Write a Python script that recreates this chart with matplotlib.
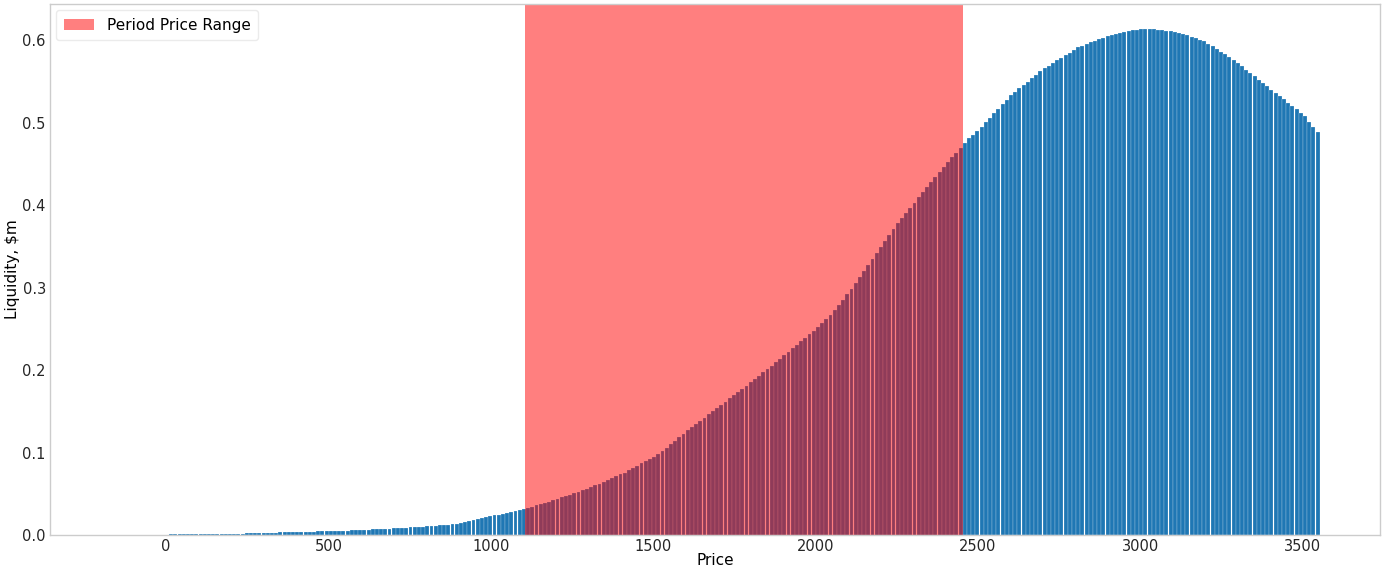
"""Liquidity by price with the period price range highlighted"""

import matplotlib
matplotlib.use("Agg")
import matplotlib.pyplot as plt
import numpy as np


# price buckets (first and last bar centre) and liquidity in $m
price_first = -165
price_last = 3546

liquidity = [
    .0003, .0003, .0004, .0004, .0004, .0005, .0005, .0006, .0006, .0007, .0007, .0008, .0008, .0009, .0010,
    .0010, .0011, .0012, .0012, .0013, .0014, .0014, .0015,
    .0016, .0016, .0017, .0017, .0018, .0019, .0019, .0020,
    .0021, .0023, .0024, .0026, .0027, .0028, .0030,
    .0031, .0032, .0034, .0035, .0036, .0037, .0039, .0040,
    .0041, .0043, .0044, .0046, .0047, .0048, .0050,
    .0051, .0053, .0055, .0057, .0059, .0061, .0063, .0065,
    .0067, .0070, .0072, .0075, .0077, .0080, .0082, .0085,
    .0088, .0091, .0094, .0097, .0100, .0103, .0107, .0110,
    .0115, .0120, .0125, .0130, .0135, .0140, .0145,
    .0156, .0168, .0180, .0192, .0204, .0216, .0228, .0240,
    .0251, .0262, .0274, .0285, .0296, .0307, .0319, .0330,
    .0345, .0361, .0377, .0392, .0408, .0424, .0440,
    .0458, .0475, .0493, .0510, .0528, .0545, .0563, .0580,
    .0603, .0625, .0648, .0670, .0693, .0715, .0738, .0760,
    .0788, .0815, .0843, .0870, .0898, .0925, .0953, .0980,
    .1021, .1063, .1104, .1146, .1187, .1229, .1270,
    .1309, .1348, .1386, .1425, .1464, .1503, .1541, .1580,
    .1619, .1658, .1697, .1736, .1775, .1814, .1853, .1892,
    .1933, .1974, .2015, .2056, .2097, .2138, .2179,
    .2222, .2264, .2307, .2349, .2392, .2435, .2477, .2520,
    .2568, .2619, .2673, .2730, .2790, .2853, .2919, .2987,
    .3057, .3129, .3202, .3276, .3350, .3424, .3497,
    .3569, .3640, .3710, .3778, .3844, .3908, .3970, .4030,
    .4092, .4154, .4215, .4276, .4337, .4397, .4457, .4517,
    .4577, .4637, .4696, .4755,
    .4808, .4855, .4903, .4950,
    .5004, .5059, .5113, .5167, .5221, .5276, .5330,
    .5371, .5413, .5454, .5495, .5536, .5578, .5619, .5660,
    .5691, .5723, .5754, .5785, .5816, .5848, .5879, .5910,
    .5930, .5950, .5970, .5990, .6010, .6030, .6050,
    .6065, .6078, .6090, .6100, .6110, .6118, .6125, .6130,
    .6130, .6130, .6128, .6125, .6120, .6115, .6108, .6100,
    .6088, .6074, .6058, .6041, .6023, .6005, .5985,
    .5955, .5925, .5893, .5860, .5825, .5790, .5755, .5720,
    .5680, .5640, .5600, .5560, .5520, .5480, .5440, .5400,
    .5360, .5320, .5280, .5240, .5200, .5160, .5120, .5080,
    .5010, .4950, .4880,
]

# period price range
period_low = 1105
period_high = 2455


def main():
    prices = np.linspace(price_first, price_last, len(liquidity))

    fig, ax = plt.subplots(figsize=(13.89, 5.67), dpi=100)
    fig.subplots_adjust(left=0.036, right=0.9935, top=0.993, bottom=0.056)

    #liquidity bars with a thin gap between them
    ax.bar(prices, liquidity, width=12, color="#1f77b4", edgecolor="white", linewidth=0.15)

    #shade the period price range over the bars
    ax.axvspan(period_low, period_high, color="red", alpha=0.5, lw=0, label="Period Price Range")

    ax.set_xlabel("Price", fontsize=11, labelpad=-1)
    ax.set_ylabel("Liquidity, $m", fontsize=11, labelpad=2)
    ax.tick_params(length=0, labelsize=10.5, colors="#262626", pad=3)

    for spine in ax.spines.values():
        spine.set_color("#cccccc")
        spine.set_linewidth(1)

    ax.legend(loc="upper left", fontsize=11, frameon=True, edgecolor="#e6e6e6",
              fancybox=True, handlelength=2.0, borderpad=0.5, borderaxespad=0.4)

    plt.savefig("out.png")
    plt.close(fig)


if __name__ == "__main__":
    main()
